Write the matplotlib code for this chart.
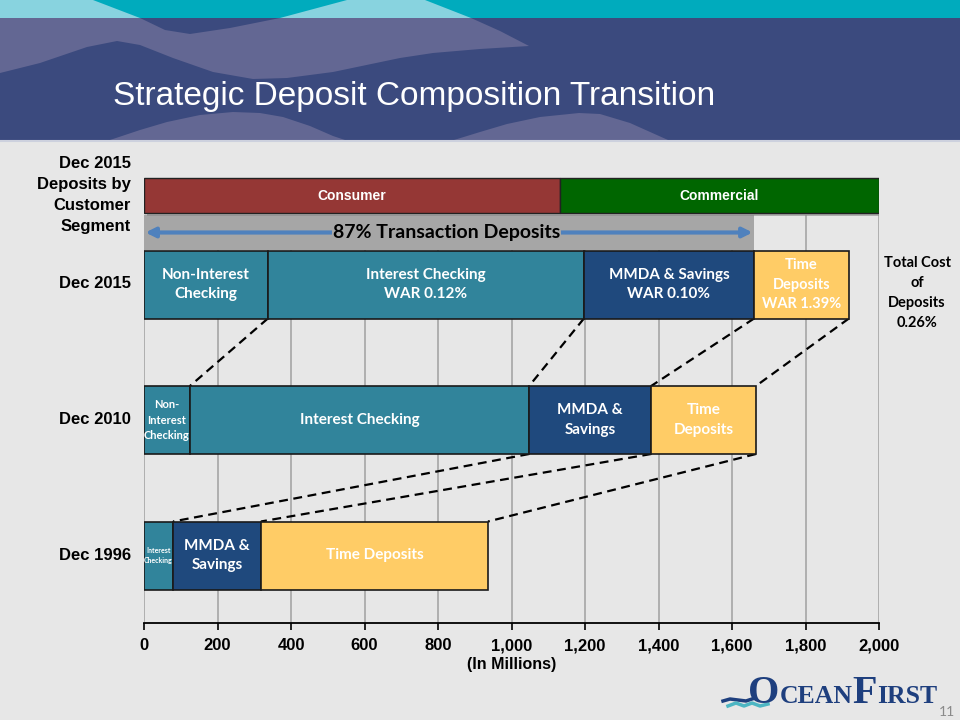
import matplotlib
matplotlib.use("Agg")
import matplotlib.pyplot as plt
from matplotlib.patches import Polygon, Rectangle
import matplotlib.patheffects as pe

# deposit balances, $ millions
categories = ["Non-Interest Checking", "Interest Checking", "MMDA & Savings", "Time Deposits"]
dec2015 = [337, 860, 463, 258]
dec2010 = [125, 923, 332, 285]
dec1996 = [0, 79, 239, 618]
segment_names = ["Consumer", "Commercial"]
segment_vals = [1132, 868]

labels2015 = ["Non-Interest\nChecking", "Interest Checking\nWAR 0.12%", "MMDA & Savings\nWAR 0.10%", "Time\nDeposits\nWAR 1.39%"]
labels2010 = ["Non-\nInterest\nChecking", "Interest Checking", "MMDA &\nSavings", "Time\nDeposits"]
labels1996 = ["", "Interest\nChecking", "MMDA &\nSavings", "Time Deposits"]
size2015 = [11, 11, 11, 10.5]
size2010 = [8, 11, 11, 11]
size1996 = [5, 5, 11, 11]

row_names = ["Dec 2015", "Dec 2010", "Dec 1996"]
xticks = list(range(0, 2001, 200))

seg_colors = ["#953735", "#006600"]
cat_colors = ["#31849B", "#31849B", "#1F497D", "#FFCC66"]
BG = "#E7E7E7"
NAVY = "#3B4A7E"
CAL = ["Lato", "DejaVu Sans"]
ARIAL = ["Liberation Sans", "DejaVu Sans"]

W, H = 960, 720
fig = plt.figure(figsize=(9.6, 7.2), dpi=100, facecolor=BG)


def fy(p):
    return 1 - p / H


# ---- header decoration (pixel coords) ----
bg = fig.add_axes([0, 0, 1, 1])
bg.set_xlim(0, W)
bg.set_ylim(H, 0)
bg.axis("off")
bg.add_patch(Rectangle((0, 0), W, 140, color=NAVY, lw=0))
bg.add_patch(Rectangle((0, 0), W, 18, color="#00ABBD", lw=0))
wave = [(0, 0), (93, 0), (140, 18), (165, 30), (190, 34), (230, 28), (280, 18), (347, 0),
        (425, 0), (471, 18), (500, 31), (529, 46), (480, 49), (433, 53), (400, 58), (333, 72),
        (287, 78), (253, 79), (213, 72), (173, 58), (140, 45), (117, 41), (87, 47), (40, 63), (0, 73)]
for col, rect in [("#636793", (0, 18, W, 122)), ("#88D3DF", (0, 0, W, 18))]:
    p = Polygon(wave, closed=True, color=col, lw=0)
    bg.add_patch(p)
    clip = Rectangle(rect[:2], rect[2], rect[3], transform=bg.transData)
    p.set_clip_path(clip)
bg.add_patch(Polygon([(110, 140), (140, 130), (167, 122), (200, 115), (233, 112), (260, 113),
                      (283, 117), (310, 126), (333, 136), (345, 140)], color="#636793", lw=0))
bg.add_patch(Polygon([(454, 140), (480, 132), (507, 124), (540, 117), (579, 113), (600, 114),
                      (630, 123), (668, 140)], color="#636793", lw=0))
bg.plot([0, W], [141, 141], color="#CDD1DE", lw=1.5)
fig.text(113 / W, fy(97), "Strategic Deposit Composition Transition", color="white",
         fontsize=24, family=ARIAL, va="center", ha="left")

# ---- main chart ----
ax = fig.add_axes([144 / W, fy(623), 735 / W, 453 / H])
ax.set_xlim(0, 2000)
ax.set_ylim(0, 453)
ax.patch.set_visible(False)
for s in ["top", "left", "right"]:
    ax.spines[s].set_visible(False)
ax.spines["bottom"].set_linewidth(1.3)
ax.set_yticks([])
ax.set_xticks(xticks)
ax.set_xticklabels([f"{v:,}" for v in xticks], fontsize=12, fontweight="bold", family=ARIAL)
ax.tick_params(axis="x", direction="out", length=5, width=1.2, pad=6)
ax.set_xlabel("(In Millions)", fontsize=11.5, fontweight="bold", family=ARIAL, labelpad=3)

seg_y, band_y = 427.5, 390.5
rows_y = [338.5, 203, 67.5]
bar_h = 68

trans_end = sum(dec2015[:3])
ax.vlines(xticks, 0, band_y + 17.5, color="#A6A6A6", lw=1.2, zorder=1)

# customer segment bar
left = 0
for name, v, c in zip(segment_names, segment_vals, seg_colors):
    ax.barh(seg_y, v, left=left, height=35, color=c, edgecolor="#222222", lw=1, zorder=4,
            path_effects=[pe.SimplePatchShadow(offset=(2, -2), shadow_rgbFace="#888888", alpha=0.6), pe.Normal()])
    ax.text(left + v / 2, seg_y, name, color="white", fontsize=10, fontweight="bold", family=ARIAL,
            ha="center", va="center", zorder=5)
    left += v

# transaction deposits band
ax.barh(band_y, trans_end, height=35, color="#A6A6A6", lw=0, zorder=2)
ax.annotate("", xy=(4, band_y), xytext=(trans_end - 4, band_y), zorder=3,
            arrowprops=dict(arrowstyle="<|-|>", color="#4F81BD", lw=3, mutation_scale=14,
                            shrinkA=0, shrinkB=0))
ax.text(824, band_y, "87% Transaction Deposits", fontsize=14, fontweight="bold", family=CAL,
        ha="center", va="center", zorder=4,
        bbox=dict(boxstyle="square,pad=0.05", fc="#A6A6A6", ec="none"))

# deposit rows
ends = []
for vals, y, labs, sizes in zip([dec2015, dec2010, dec1996], rows_y,
                                [labels2015, labels2010, labels1996], [size2015, size2010, size1996]):
    left = 0
    e = []
    for v, c, lab, fs in zip(vals, cat_colors, labs, sizes):
        if v > 0:
            ax.barh(y, v, left=left, height=bar_h, color=c, edgecolor="#1A1A1A", lw=1.2, zorder=3)
            ax.text(left + v / 2, y, lab, color="white", fontsize=fs, fontweight="bold", family=CAL,
                    ha="center", va="center", linespacing=1.5, zorder=4)
        left += v
        e.append(left)
    ends.append(e)

# dashed connectors between rows
for i in range(2):
    y0 = rows_y[i] - bar_h / 2
    y1 = rows_y[i + 1] + bar_h / 2
    for k in range(4):
        if (i == 1 and k == 0):
            continue
        ax.plot([ends[i][k], ends[i + 1][k]], [y0, y1], color="black", lw=1.6,
                ls=(0, (4, 2.5)), zorder=2)

# row labels
fig.text(131 / W, fy(194.5), "Dec 2015\nDeposits by\nCustomer\nSegment", ha="right", va="center",
         fontsize=12, fontweight="bold", family=ARIAL, linespacing=1.5)
for name, p in zip(row_names, [284, 420, 555]):
    fig.text(131 / W, fy(p), name, ha="right", va="center", fontsize=12, fontweight="bold", family=ARIAL)

fig.text(917 / W, fy(293), "Total Cost\nof\nDeposits\n0.26%", ha="center", va="center",
         fontsize=10.5, fontweight="bold", family=CAL, linespacing=1.53)

# ---- logo ----
logo_col = "#1E3F7E"
fig.canvas.draw()
rend = fig.canvas.get_renderer()
x = 748
for txt, fs in [("O", 29), ("CEAN", 18.5), ("F", 29), ("IRST", 18.5)]:
    t = bg.text(x, 703, txt, color=logo_col, fontsize=fs, family=["Liberation Serif"],
                fontweight="bold", ha="left", va="baseline")
    bb = t.get_window_extent(rend)
    x += bb.width
bg.plot([723, 730, 738, 746, 752], [701, 699, 700, 701, 699], color=logo_col, lw=2.5)
bg.plot([728, 736, 744, 752, 760, 768], [706, 703, 706, 703, 706, 704], color="#4DB6C3", lw=2.5)
fig.text(955 / W, fy(712), "11", color="#8A8A8A", fontsize=10, family=CAL, ha="right", va="center")

fig.savefig("out.png", dpi=100, facecolor=BG)
